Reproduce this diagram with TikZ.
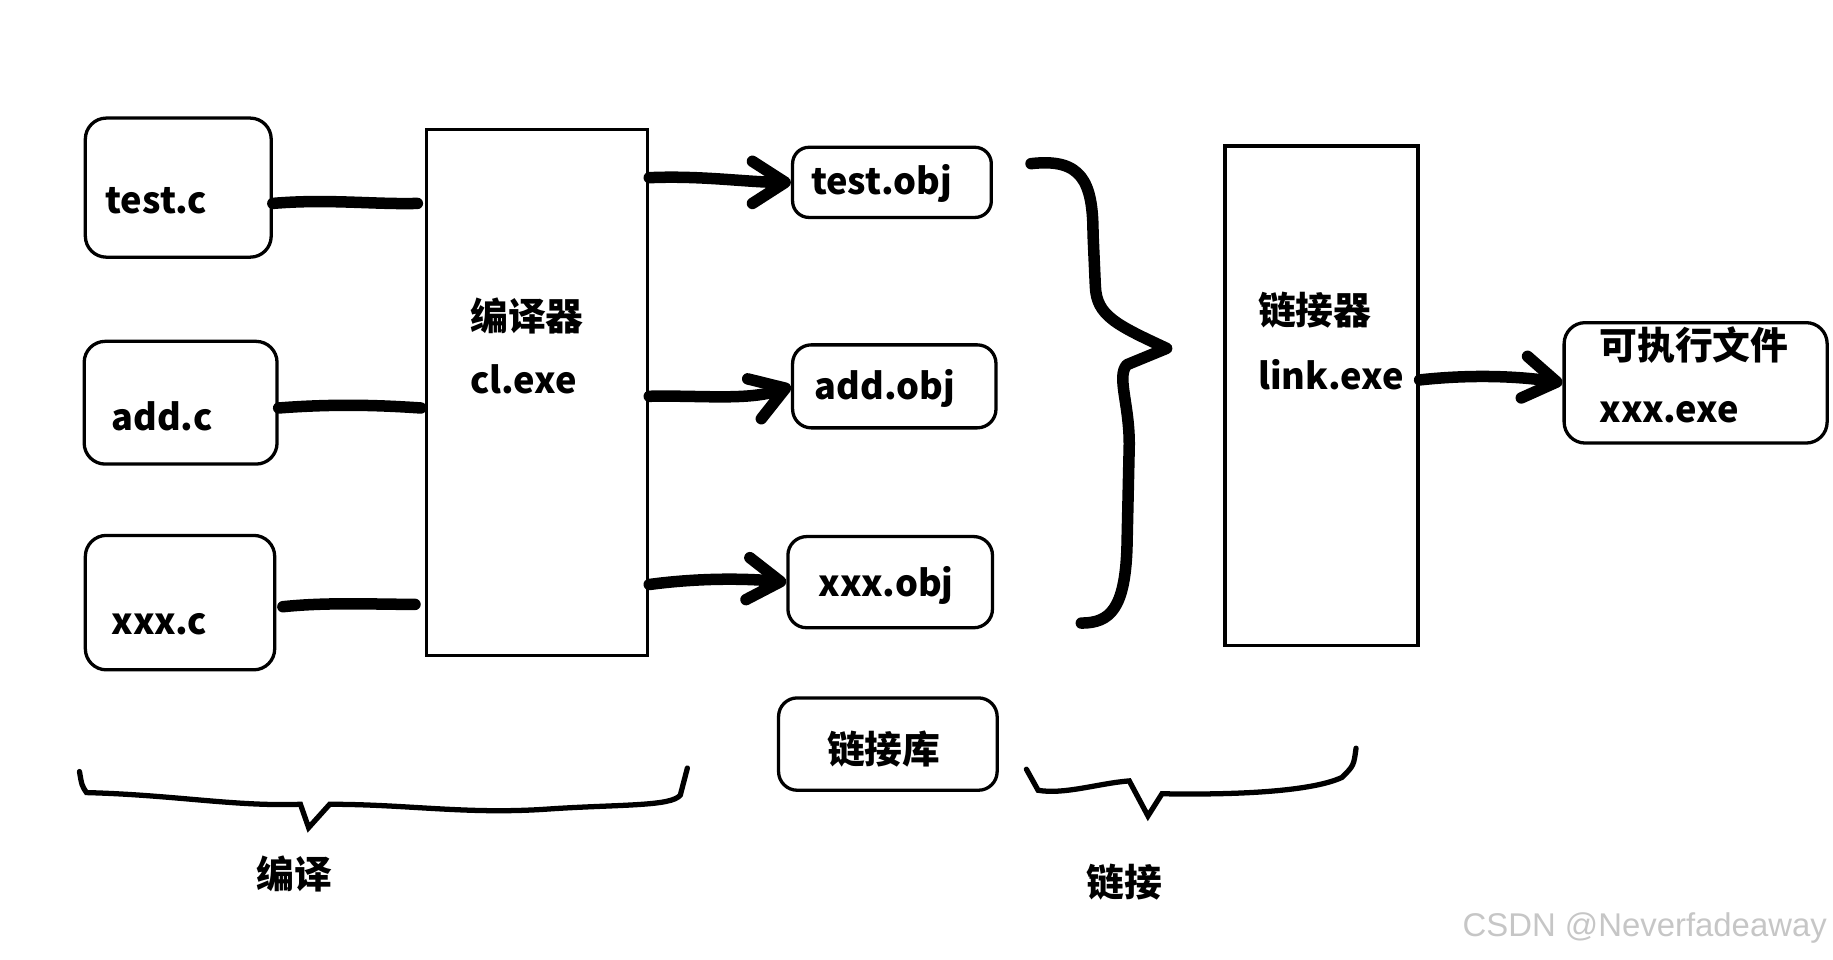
\documentclass[tikz,border=0pt]{standalone}
\usepackage{fontspec}
\setmainfont{Noto Sans CJK SC}
\newfontfamily\wmfont{Liberation Sans}
\usetikzlibrary{arrows.meta}
\begin{document}
\begin{tikzpicture}[x=0.025cm,y=-0.025cm,
  box/.style={draw, line width=2pt, rounded corners=0.45cm, inner sep=0},
  rect/.style={draw, line width=2pt, inner sep=0},
  lab/.style={font=\fontsize{23}{26}\selectfont\bfseries, inner sep=0},
  latin/.style={font=\fontsize{22}{26}\selectfont\bfseries, inner sep=0},
  stroke/.style={line width=7pt, line cap=round, line join=round},
  arr/.style={stroke, -{Straight Barb[length=0.7cm,width=0.9cm,round]}},
  bigbrace/.style={line width=7pt, line cap=round, line join=round},
  smallbrace/.style={line width=3.2pt, line cap=round, line join=miter}]
\useasboundingbox (0,0) rectangle (1568,821);
% boxes
\node[box, minimum width=159*0.025cm, minimum height=119*0.025cm] (tc) at (152.5,160.5) {};
\node[box, minimum width=165*0.025cm, minimum height=105*0.025cm] (ac) at (154.5,344.5) {};
\node[box, minimum width=162*0.025cm, minimum height=115*0.025cm] (xc) at (154,515.5) {};
\node[rect, minimum width=189*0.025cm, minimum height=450*0.025cm] (cl) at (459.5,336) {};
\node[box, rounded corners=0.35cm, minimum width=170*0.025cm, minimum height=60*0.025cm] (to) at (763,156) {};
\node[box, rounded corners=0.4cm, minimum width=174*0.025cm, minimum height=71*0.025cm] (ao) at (765,330.5) {};
\node[box, rounded corners=0.4cm, minimum width=175*0.025cm, minimum height=78*0.025cm] (xo) at (761.5,498) {};
\node[rect, minimum width=165*0.025cm, minimum height=427*0.025cm] (lk) at (1130.5,338.5) {};
\node[box, minimum width=225*0.025cm, minimum height=103*0.025cm] (ex) at (1450.5,327.5) {};
\node[box, rounded corners=0.4cm, minimum width=187*0.025cm, minimum height=79*0.025cm] (lib) at (759.5,636.5) {};
% texts
\node[latin, anchor=base west] (ttc) at (90,183) {test.c};
\node[latin, anchor=base west] (tac) at (95,368) {add.c};
\node[latin, anchor=base west] (txc) at (95,543) {xxx.c};
\node[lab, anchor=west] (tcl1) at (402,270) {编译器};
\node[latin, anchor=base west] (tcl2) at (402,337) {cl.exe};
\node[latin, anchor=base] (tto) at (754,166) {test.obj};
\node[latin, anchor=base] (tao) at (757,342) {add.obj};
\node[latin, anchor=base] (txo) at (758,510) {xxx.obj};
\node[lab, anchor=west] (tlk1) at (1076,265) {链接器};
\node[latin, anchor=base west] (tlk2) at (1076,333) {link.exe};
\node[lab, anchor=west] (tex1) at (1368,295) {可执行文件};
\node[latin, anchor=base west] (tex2) at (1368,361) {xxx.exe};
\node[lab] (tlib) at (756,641) {链接库};
\node[lab] (tcomp) at (252,748) {编译};
\node[lab] (tlink) at (962,755) {链接};
\node[anchor=east, inner sep=0, text=gray!45, font=\wmfont\fontsize{20}{24}\selectfont] (wm) at (1563,794) {CSDN @Neverfadeaway};
% input lines
\coordinate (e1) at (357,174);
\coordinate (e2) at (360,349);
\coordinate (e3) at (355,517);
\draw[stroke] (tc.east |- e1) .. controls (280,170) and (320,175) .. (e1);
\draw[stroke] (ac.east |- e2) .. controls (290,345) and (330,347) .. (e2);
\draw[stroke] (242,519) .. controls (280,515) and (320,517) .. (e3);
% arrows to obj
\draw[arr] (cl.east |- 0,152) .. controls (600,150) and (640,156) .. (to.west);
\draw[arr] (cl.east |- 0,339) .. controls (600,338) and (640,343) .. (ao.west);
\draw[arr] (cl.east |- 0,500) .. controls (600,494) and (640,495) .. (xo.west);
\draw[arr] (lk.east |- 0,325) .. controls (1260,320) and (1300,322) .. (ex.west);
% big brace
\draw[bigbrace] (882,140) .. controls (925,135) and (935,155) .. (935,200) -- (937,245)
  .. controls (938,270) and (955,278) .. (998,298) -- (964,312)
  .. controls (955,322) and (966,345) .. (966,380) -- (964,470)
  .. controls (962,520) and (950,533) .. (925,533);
% bottom braces
\draw[smallbrace] (68,660) .. controls (70,672) .. (74,678)
  .. controls (150,680) and (200,690) .. (257,688) -- (264,708) -- (282,688)
  .. controls (350,688) and (400,697) .. (470,692)
  .. controls (530,688) and (575,690) .. (582,680) -- (588,657);
\draw[smallbrace] (878,658) -- (888,676) .. controls (910,680) and (940,670) .. (966,668)
  -- (982,698) -- (994,679) .. controls (1050,680) and (1120,678) .. (1148,665)
  .. controls (1158,655) .. (1160,640);
\end{tikzpicture}
\end{document}
